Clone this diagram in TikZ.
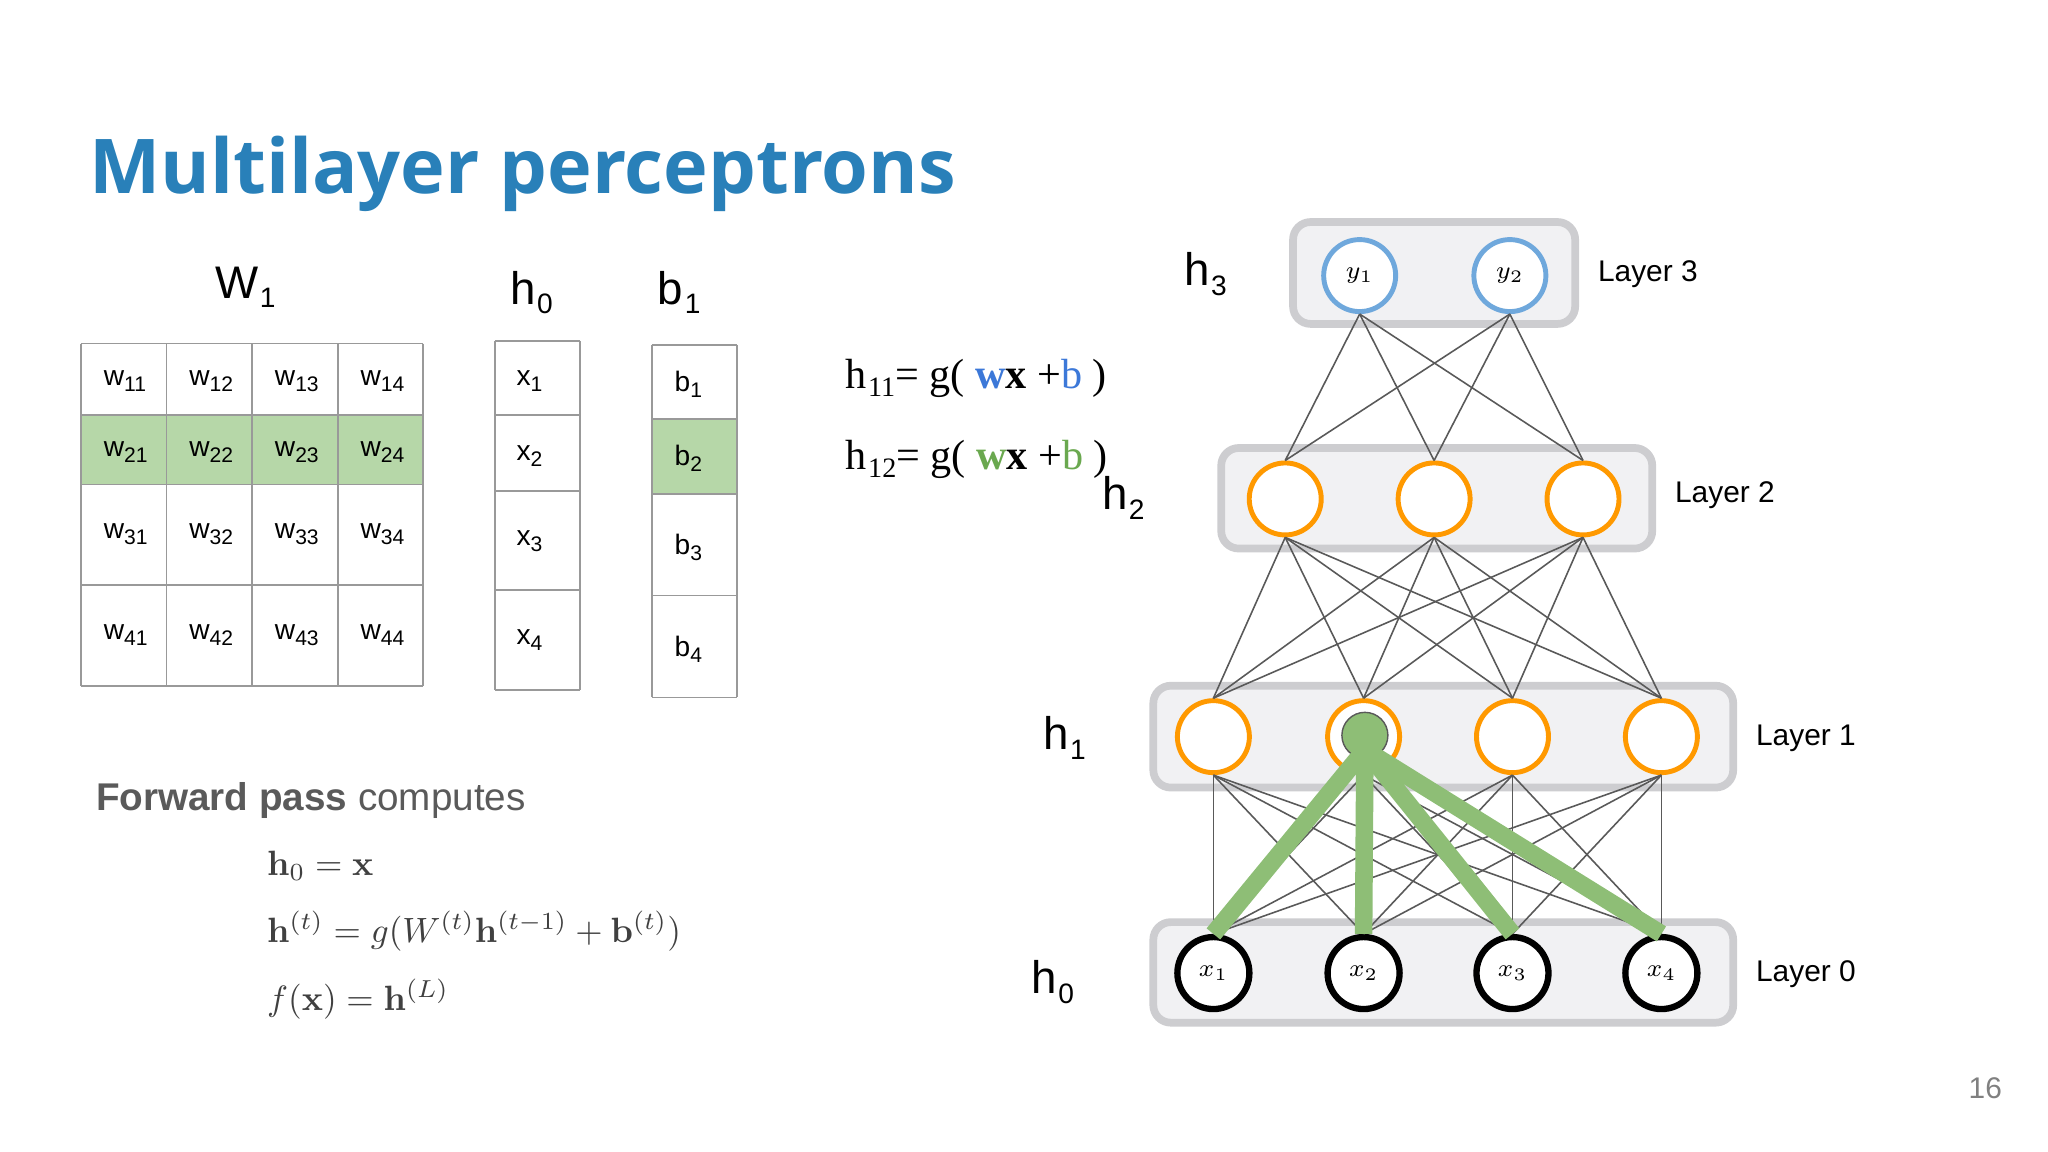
\documentclass[tikz,border=0pt]{standalone}
\usepackage{amsmath}
\usepackage[no-math]{fontspec}
\setmainfont{Liberation Sans}
\newfontfamily\ttl{Open Sans}
\newfontfamily\srf{Liberation Serif}
\definecolor{tblue}{RGB}{41,128,185}
\definecolor{lgreen}{RGB}{182,215,168}
\definecolor{ggreen}{RGB}{142,190,118}
\definecolor{eqgreen}{RGB}{106,168,79}
\definecolor{eqblue}{RGB}{60,120,216}
\definecolor{nblue}{RGB}{111,168,220}
\definecolor{norange}{RGB}{255,153,0}
\definecolor{boxfill}{RGB}{241,241,243}
\definecolor{boxline}{RGB}{205,205,208}
\definecolor{tgray}{RGB}{90,90,90}
\newcommand{\mysub}[1]{\raisebox{-0.4ex}{\footnotesize\kern0.05em#1}}
\newcommand{\smsub}[1]{\raisebox{-0.4ex}{\fontsize{6}{7}\selectfont#1}}
\begin{document}
\begin{tikzpicture}[x=0.013061cm,y=-0.013061cm,
 cell/.style={draw=gray!80,line width=0.5pt},
 ctext/.style={anchor=west,font=\fontsize{8}{9}\selectfont},
 lbl/.style={font=\fontsize{13}{14}\selectfont},
 layerbox/.style={draw=boxline,fill=boxfill,line width=2.2pt,rounded corners=5pt},
 neuron/.style={circle,minimum size=0.72cm,fill=white,line width=1.4pt,inner sep=0pt,font=\scriptsize},
 conn/.style={draw=gray!70!black,line width=0.45pt},
 gconn/.style={draw=ggreen,line width=5pt},
 laytxt/.style={anchor=west,font=\fontsize{8.5}{10}\selectfont}]
\useasboundingbox (0,0) rectangle (1568,882);
\node[anchor=base west,font=\ttl\bfseries\fontsize{21.5}{24}\selectfont,text=tblue,inner sep=0] (title) at (68,148) {Multilayer perceptrons};
% W1 matrix
\node[lbl] (W) at (188,220) {W\mysub{1}};
\fill[lgreen] (62,318) rectangle (324,371);
\foreach \x in {62,127.5,193,258.5,324} \draw[cell] (\x,263) -- (\x,525);
\foreach \y in {263,318,371,448,525} \draw[cell] (62,\y) -- (324,\y);
\foreach \r/\y in {1/292,2/346,3/409,4/486}{
 \foreach \c/\x in {1/70,2/135.5,3/201,4/266.5}{
  \node[ctext] (w\r\c) at (\x,\y) {w\smsub{\r\c}};}}
% h0
\node[lbl] (h0l) at (407,224) {h\mysub{0}};
\foreach \y in {261,318,376,452,528} \draw[cell] (379,\y) -- (444,\y);
\draw[cell] (379,261) -- (379,528) (444,261) -- (444,528);
\foreach \i/\y in {1/292,2/349,3/414,4/490} \node[ctext] (xc\i) at (386,\y) {x\smsub{\i}};
% b1
\node[lbl] (b1l) at (520,224) {b\mysub{1}};
\fill[lgreen] (499,321) rectangle (564,378);
\foreach \y in {264,321,378,456,534} \draw[cell] (499,\y) -- (564,\y);
\draw[cell] (499,264) -- (499,534) (564,264) -- (564,534);
\foreach \i/\y in {1/294,2/351,3/419,4/497} \node[ctext] (bc\i) at (507,\y) {b\smsub{\i}};
% equations
\node[anchor=west,font=\srf\fontsize{12}{14}\selectfont] (e1) at (638,290) {h\mysub{11}= g( \textcolor{eqblue}{\textbf{w}}\textbf{x} +\textcolor{eqblue}{b} )};
\node[anchor=west,font=\srf\fontsize{12}{14}\selectfont] (e2) at (638,352) {h\mysub{12}= g( \textcolor{eqgreen}{\textbf{w}}\textbf{x} +\textcolor{eqgreen}{b} )};
% layer boxes
\draw[layerbox] (990,170) rectangle (1206,248);
\draw[layerbox] (935,343) rectangle (1265,420);
\draw[layerbox] (883,525) rectangle (1327,603);
\draw[layerbox] (883,706) rectangle (1327,783);
% neurons
\node[neuron,draw=nblue] (y1) at (1041,211) {$y_1$};
\node[neuron,draw=nblue] (y2) at (1156,211) {$y_2$};
\foreach \i/\x in {1/984,2/1098,3/1212} \node[neuron,draw=norange] (b\i) at (\x,382) {};
\foreach \i/\x in {1/929,2/1044,3/1158,4/1272} \node[neuron,draw=norange] (a\i) at (\x,564) {};
\foreach \i/\x in {1/929,2/1044,3/1158,4/1272} \node[neuron,draw=black,line width=1.8pt] (x\i) at (\x,745) {$x_\i$};
% connections
\foreach \i in {1,2} \foreach \j in {1,2,3} \draw[conn] (y\i.south) -- (b\j.north);
\foreach \i in {1,2,3} \foreach \j in {1,2,3,4} \draw[conn] (b\i.south) -- (a\j.north);
\foreach \i in {1,2,3,4} \foreach \j in {1,2,3,4} \draw[conn] (a\i.south) -- (x\j.north);
\node[circle,fill=ggreen,draw=gray!70!black,line width=0.4pt,minimum width=0.46cm,minimum height=0.42cm,inner sep=0] (g) at (1045,563) {};
\coordinate (gs) at (1045,574);
\foreach \j in {1,2,3,4} \draw[gconn] (gs) -- (x\j.north);
% h labels
\node[lbl] (h3) at (923,210) {h\mysub{3}};
\node[lbl] (h2) at (860,381) {h\mysub{2}};
\node[lbl] (h1) at (815,565) {h\mysub{1}};
\node[lbl] (h0) at (806,752) {h\mysub{0}};
\node[laytxt] (L3) at (1214,210) {Layer 3};
\node[laytxt] (L2) at (1273,379) {Layer 2};
\node[laytxt] (L1) at (1335,565) {Layer 1};
\node[laytxt] (L0) at (1335,746) {Layer 0};
% forward pass
\node[anchor=west,text=tgray,font=\fontsize{11}{13}\selectfont] (fp) at (64,613) {\textbf{Forward pass} computes};
\node[anchor=west,text=black!75] (m1) at (195,663) {$\mathbf{h}_0=\mathbf{x}$};
\node[anchor=west,text=black!75] (m2) at (195,713) {$\mathbf{h}^{(t)}=g(W^{(t)}\mathbf{h}^{(t-1)}+\mathbf{b}^{(t)})$};
\node[anchor=west,text=black!75] (m3) at (195,765) {$f(\mathbf{x})=\mathbf{h}^{(L)}$};
\node[text=gray,font=\fontsize{8.5}{10}\selectfont] (pg) at (1520,833) {16};
\end{tikzpicture}
\end{document}
